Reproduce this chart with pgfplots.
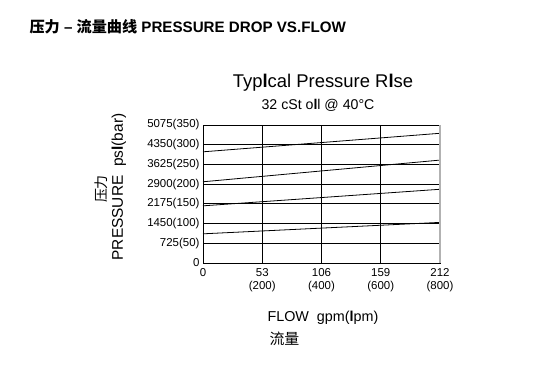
\documentclass[border=0pt]{standalone}
\usepackage{pgfplots}
\pgfplotsset{compat=1.18}
\usepackage{fontspec}
\setmainfont{Liberation Sans}
\newfontfamily\cjk{Noto Sans CJK SC}
\begin{document}
\begin{tikzpicture}[x=1bp,y=1bp]
\path (0,0) rectangle (552,371);
\begin{axis}[at={(203bp,108bp)}, anchor=south west, scale only axis,
  width=237bp, height=138bp,
  xmin=0, xmax=212, ymin=0, ymax=350,
  xtick={0,53,106,159,212},
  xticklabels={0,{53\\(200)},{106\\(400)},{159\\(600)},{212\\(800)}},
  xticklabel style={align=center, font=\fontsize{11.5}{13}\selectfont, anchor=north, yshift=-2bp},
  ytick={0,50,...,350},
  yticklabels={0,725(50),1450(100),2175(150),2900(200),3625(250),4350(300),5075(350)},
  yticklabel style={font=\fontsize{11.5}{13}\selectfont},
  grid=major, major grid style={black, line width=0.9pt},
  major tick length=0pt,
  axis line style={black, line width=0.9pt},
  clip=false]
\addplot[black, line width=0.8pt] coordinates {(0,74) (212,103)};
\addplot[black, line width=0.8pt] coordinates {(0,145) (212,187)};
\addplot[black, line width=0.8pt] coordinates {(0,206) (212,261)};
\addplot[black, line width=0.8pt] coordinates {(0,282) (212,329)};
\draw[gray!60, line width=1.4pt] (axis cs:212,0) -- (axis cs:212,350);
\end{axis}
\node[anchor=west, font=\bfseries\fontsize{15.2}{17}\selectfont] at (26,344) {{\cjk 压力} – {\cjk 流量曲线} PRESSURE DROP VS.FLOW};
\node[font=\fontsize{18.5}{21}\selectfont] at (323,288) {Typ\textbf{l}cal Pressure R\textbf{l}se};
\node[font=\fontsize{14.2}{16}\selectfont] at (318,266) {32 cSt o\textbf{l}l @ 40°C};
\node[rotate=90, font=\fontsize{15.5}{17}\selectfont] at (119,184) {PRESSURE\ \ ps\textbf{l}(bar)};
\node[rotate=90, font=\cjk\fontsize{14}{15}\selectfont] at (101,182) {压力};
\node[anchor=west, font=\fontsize{14.4}{16}\selectfont] at (264,53) {FLOW\ \ gpm(\textbf{l}pm)};
\node[anchor=west, font=\cjk\fontsize{15}{16}\selectfont] at (266,32) {流量};
\end{tikzpicture}
\end{document}
